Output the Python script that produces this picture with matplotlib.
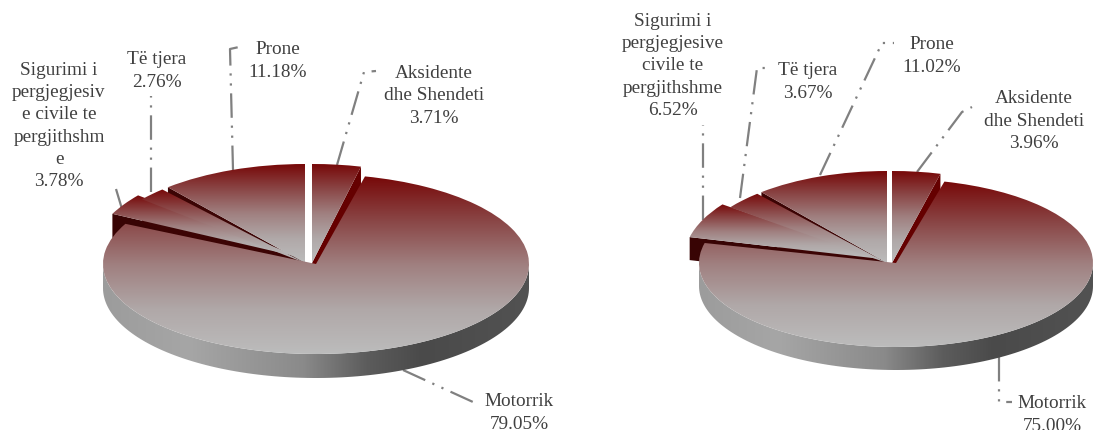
import numpy as np
import matplotlib
matplotlib.use("Agg")
import matplotlib.pyplot as plt
from matplotlib.colors import LinearSegmentedColormap
from matplotlib.patches import Polygon
from matplotlib.transforms import Affine2D

plt.rcParams['font.family'] = ['Liberation Serif', 'DejaVu Serif']

# order is clockwise from 12 o'clock
names_left = ["Aksidente\ndhe Shendeti", "Motorrik", "Sigurimi i\npergjegjesiv\ne civile te\npergjithshm\ne", "Të tjera", "Prone"]
values_left = [3.71, 79.05, 3.78, 2.76, 11.18]
names_right = ["Aksidente\ndhe Shendeti", "Motorrik", "Sigurimi i\npergjegjesive\ncivile te\npergjithshme", "Të tjera", "Prone"]
values_right = [3.96, 75.00, 6.52, 3.67, 11.02]

top_cmap = LinearSegmentedColormap.from_list("top", ["#770808", "#8a4646", "#a08080", "#b0a8a8", "#bcbcbc"])
wall_cmap = LinearSegmentedColormap.from_list("wall", [(0, "#9c9c9c"), (0.2, "#a6a6a6"), (0.47, "#8a8a8a"),
	(0.62, "#5c5c5c"), (0.75, "#4a4a4a"), (1, "#525252")])
grad_v = np.linspace(0, 1, 256).reshape(-1, 1)
grad_h = np.linspace(0, 1, 256).reshape(1, -1)

fig = plt.figure(figsize=(10.93, 4.30), dpi=100)
ax = fig.add_axes([0, 0, 1, 1])


def gradientFill(patch, trans, zorder):
	# vertical gradient over the bbox of one slice, clipped to that slice
	box = patch.get_path().get_extents(trans)
	im = ax.imshow(grad_v, extent=(box.x0, box.x1, box.y1, box.y0), cmap=top_cmap,
		aspect='auto', interpolation='bilinear', zorder=zorder)
	im.set_clip_path(patch)


def drawPie(values, main, rx, ry, depth, slices, gaps, wall_h, wall_colors):
	cx, cy = main
	wedges = ax.pie(values, startangle=90, counterclock=False, colors=['none'] * len(values),
		wedgeprops=dict(linewidth=0))[0]

	# rim of the disc
	t = np.linspace(np.pi, 2 * np.pi, 120)
	xs = cx + rx * np.cos(t)
	ys = cy - ry * np.sin(t)
	rim = Polygon(np.column_stack([np.r_[xs, xs[::-1]], np.r_[ys, (ys + depth)[::-1]]]), fc='none', lw=0)
	ax.add_patch(rim)
	im = ax.imshow(grad_h, extent=(cx - rx, cx + rx, cy + ry + depth, cy), cmap=wall_cmap,
		aspect='auto', interpolation='bilinear', zorder=2)
	im.set_clip_path(rim)

	for i, w in enumerate(wedges):
		if i == 1:
			trans = Affine2D().scale(rx, -ry).translate(cx, cy)
			w.set_transform(trans + ax.transData)
			gradientFill(w, trans, 5)
			continue
		sx, sy = slices[i]
		trans = Affine2D().scale(rx, -(ry + wall_h)).translate(sx, sy)
		w.set_transform(trans + ax.transData)
		w.set_theta1(w.theta1 + gaps[i])

		# side face of the slice, the big slice hides most of it
		a = np.deg2rad(w.theta1 if i == 0 else w.theta2)
		px, py = trans.transform((np.cos(a), np.sin(a)))
		ax.add_patch(Polygon([(px, py), (px, py + depth), (sx, sy + depth), (sx, sy)],
			fc=wall_colors[i], lw=0, zorder=3))
		gradientFill(w, trans, 4)


def drawLabels(names, values, centers):
	for name, v, (x, y) in zip(names, values, centers):
		ax.text(x, y, "%s\n%.2f%%" % (name, v), ha='center', va='center', color='#404040',
			fontsize=13.9, linespacing=1.4, zorder=6, clip_on=False)


def drawLeaders(leaders):
	for pts in leaders:
		ax.plot([p[0] for p in pts], [p[1] for p in pts], color='#808080', lw=1.6,
			ls=(0, (11, 3.5, 1, 3.5, 1, 3.5)), zorder=1, dash_capstyle='butt')


# left pie
drawLeaders([
	[(337, 165), (364, 72), (376, 71)],
	[(403, 370), (473, 402)],
	[(122, 209), (116, 189)],
	[(151, 192), (151, 96)],
	[(233, 170), (230, 49), (239, 47)],
])
drawPie(values_left, (316, 264), 213, 90, 24,
	[(312, 263), None, (303, 258), (305, 263), (305, 263)],
	[0, 0, 0.8, 2.0, 0], 9,
	['#650000', None, '#380404', '#3c0404', '#3c0404'])
drawLabels(names_left, values_left, [(434, 96), (519, 413), (59, 126), (157, 71), (278, 61)])

# right pie
drawLeaders([
	[(917, 172), (962, 112), (972, 107)],
	[(999, 357), (999, 402), (1012, 402)],
	[(703, 220), (703, 125)],
	[(740, 198), (757, 68), (768, 68)],
	[(820, 175), (882, 43), (894, 43)],
])
drawPie(values_right, (896, 263), 197, 84, 23,
	[(892, 263), None, (881, 259), (887, 263), (887, 263)],
	[0, 0, 0.8, 1.6, 0], 8,
	['#650000', None, '#380404', '#3c0404', '#3c0404'])
drawLabels(names_right, values_right, [(1034, 121), (1052, 415), (673, 66), (808, 82), (932, 56)])

ax.set_aspect('auto')
ax.set_xlim(0, 1093)
ax.set_ylim(430, 0)
ax.axis('off')

fig.savefig("out.png", dpi=100)
